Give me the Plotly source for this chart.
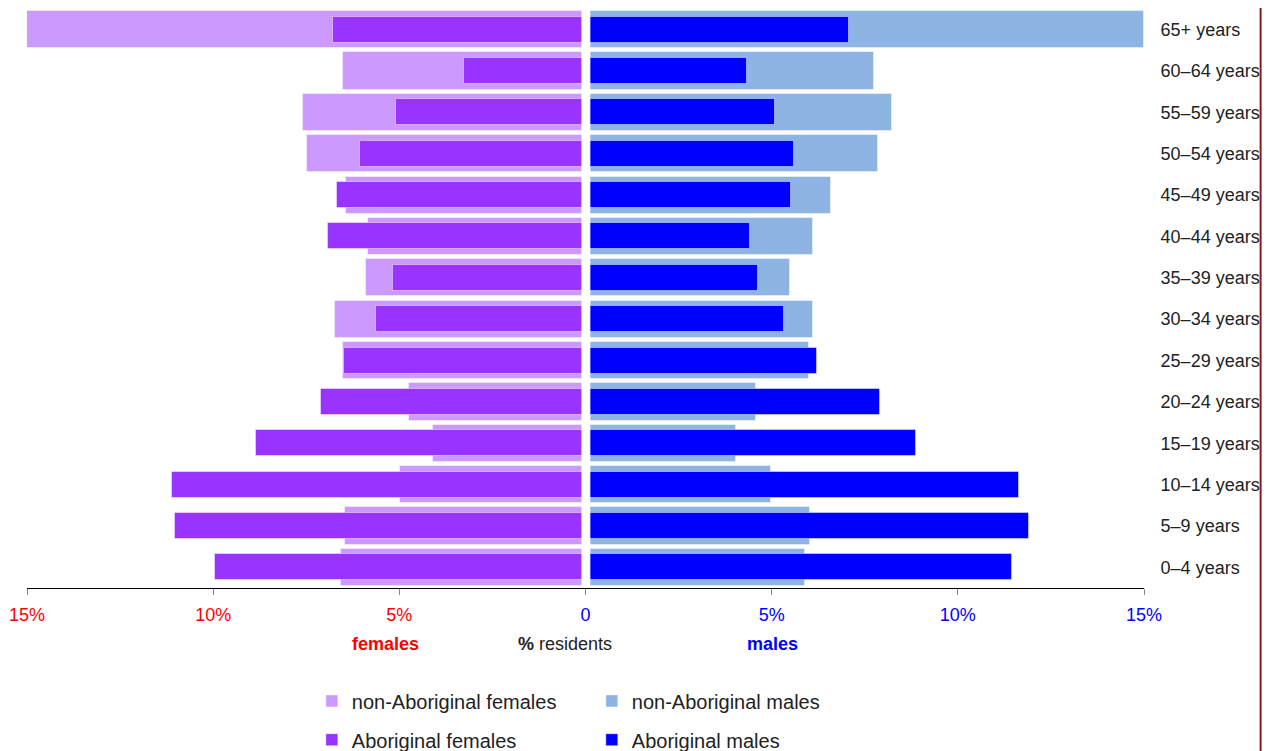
import plotly.graph_objects as go

age_groups = ["0–4 years", "5–9 years", "10–14 years", "15–19 years", "20–24 years",
              "25–29 years", "30–34 years", "35–39 years", "40–44 years", "45–49 years",
              "50–54 years", "55–59 years", "60–64 years", "65+ years"]

non_abor_females = [6.56, 6.45, 4.97, 4.09, 4.73, 6.50, 6.72, 5.89, 5.83, 6.42, 7.47, 7.58, 6.50, 15.0]
abor_females     = [9.95, 11.02, 11.10, 8.84, 7.10, 6.48, 5.62, 5.16, 6.91, 6.67, 6.05, 5.08, 3.25, 6.77]
non_abor_males   = [5.89, 6.02, 4.97, 4.03, 4.57, 5.99, 6.10, 5.48, 6.10, 6.59, 7.85, 8.23, 7.74, 15.0]
abor_males       = [11.45, 11.91, 11.64, 8.87, 7.90, 6.21, 5.32, 4.62, 4.41, 5.51, 5.59, 5.08, 4.33, 7.07]

tick_vals = [-15, -10, -5, 0, 5, 10, 15]
tick_text = ["15%", "10%", "5%", "0", "5%", "10%", "15%"]
tick_colors = ["#FF0000", "#FF0000", "#FF0000", "#0000FF", "#0000FF", "#0000FF", "#0000FF"]

FONT = "Liberation Sans, Arial, sans-serif"
edge = dict(color="rgba(255,255,255,0.45)", width=1)

fig = go.Figure()
fig.add_trace(go.Bar(y=age_groups, x=[-v for v in non_abor_females], orientation="h",
                     width=0.9, marker=dict(color="#CC99FF", line=edge),
                     name="non-Aboriginal females", legend="legend"))
fig.add_trace(go.Bar(y=age_groups, x=non_abor_males, orientation="h",
                     width=0.9, marker=dict(color="#8DB4E2", line=edge),
                     name="non-Aboriginal males", legend="legend"))
fig.add_trace(go.Bar(y=age_groups, x=[-v for v in abor_females], orientation="h",
                     width=0.63, marker=dict(color="#9933FF", line=edge),
                     name="Aboriginal females", legend="legend2"))
fig.add_trace(go.Bar(y=age_groups, x=abor_males, orientation="h",
                     width=0.63, marker=dict(color="#0000FF", line=edge),
                     name="Aboriginal males", legend="legend2"))

legend_common = dict(orientation="h", xanchor="left", yanchor="middle", entrywidth=235,
                     font=dict(family=FONT, size=20, color="#222222"),
                     bgcolor="rgba(0,0,0,0)", itemclick=False, traceorder="normal")

fig.update_layout(
    width=1265, height=743,
    margin=dict(l=19, r=129, t=1, b=163, autoexpand=False),
    paper_bgcolor="white", plot_bgcolor="white",
    barmode="overlay", bargap=0,
    font=dict(family=FONT, size=18, color="#222222"),
    xaxis=dict(range=[-15, 15], tickvals=tick_vals, automargin=False,
               ticktext=[f"<span style='color:{c}'>{t}</span>" for t, c in zip(tick_text, tick_colors)],
               showgrid=False, zeroline=False, showline=True, linecolor="black", linewidth=1,
               ticks="outside", ticklen=6, tickcolor="#888888", tickwidth=1,
               ticklabelstandoff=4,
               tickfont=dict(family=FONT, size=18)),
    yaxis=dict(categoryorder="array", categoryarray=age_groups, side="right", automargin=False,
               showgrid=False, zeroline=False, showline=False,
               ticks="outside", ticklen=12, tickcolor="rgba(0,0,0,0)",
               tickfont=dict(family=FONT, size=18, color="#222222"),
               range=[-0.5, 13.5]),
    legend=dict(x=0.255, y=-0.195, **legend_common),
    legend2=dict(x=0.255, y=-0.262, **legend_common),
    shapes=[
        dict(type="rect", xref="x", yref="paper", x0=-0.11, x1=0.13, y0=0.002, y1=1,
             fillcolor="white", line=dict(width=0), layer="above"),
        dict(type="rect", xref="paper", yref="paper", x0=1.1035, x1=1.1053, y0=-0.29, y1=1.01,
             fillcolor="#8B1A1A", line=dict(width=0), layer="above"),
    ],
    annotations=[
        dict(text="<b>females</b>", x=-5.38, y=-0.0967, xref="x", yref="paper", yanchor="middle",
             showarrow=False, font=dict(family=FONT, size=18, color="#FF0000")),
        dict(text="<b>%</b> residents", x=-0.54, y=-0.0967, xref="x", yref="paper", yanchor="middle",
             showarrow=False, font=dict(family=FONT, size=18, color="#222222")),
        dict(text="<b>males</b>", x=5.03, y=-0.0967, xref="x", yref="paper", yanchor="middle",
             showarrow=False, font=dict(family=FONT, size=18, color="#0000FF")),
    ],
)

fig.write_html("out.html")
